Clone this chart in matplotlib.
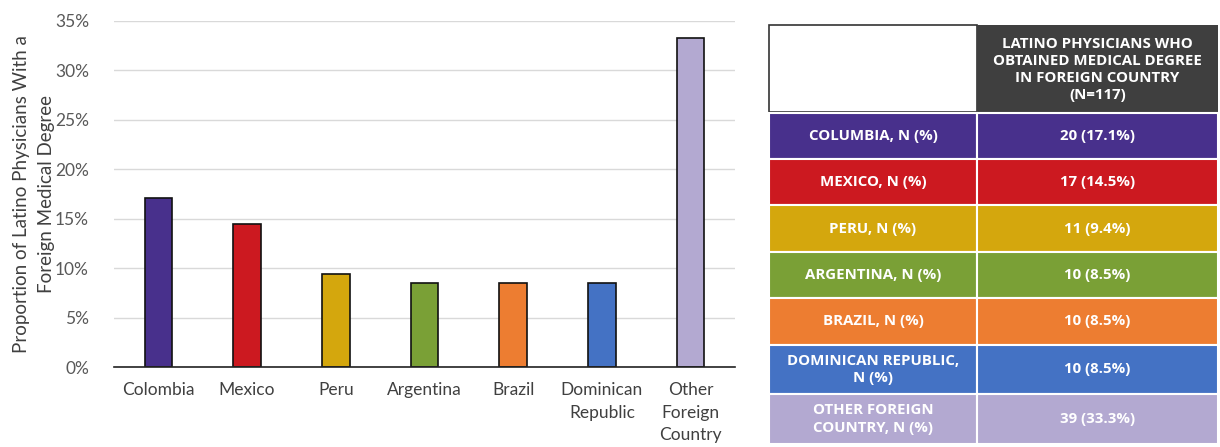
import matplotlib
matplotlib.use("Agg")
import matplotlib.pyplot as plt
from matplotlib.patches import Rectangle
from matplotlib.ticker import PercentFormatter

# ---- data ----
categories = ["Colombia", "Mexico", "Peru", "Argentina", "Brazil",
              "Dominican\nRepublic", "Other\nForeign\nCountry"]
proportions = [17.1, 14.5, 9.4, 8.5, 8.5, 8.5, 33.3]
colors = ["#48308c", "#cc1920", "#d4a70d", "#7aa036", "#ed7d31", "#4472c4", "#b3a9d1"]
row_labels = ["COLUMBIA, N (%)", "MEXICO, N (%)", "PERU, N (%)", "ARGENTINA, N (%)",
              "BRAZIL, N (%)", "DOMINICAN REPUBLIC,\nN (%)", "OTHER FOREIGN\nCOUNTRY, N (%)"]
counts = [20, 17, 11, 10, 10, 10, 39]
pct_text = ["17.1%", "14.5%", "9.4%", "8.5%", "8.5%", "8.5%", "33.3%"]
header = "LATINO PHYSICIANS WHO\nOBTAINED MEDICAL DEGREE\nIN FOREIGN COUNTRY\n(N=117)"
yticks = [0, 5, 10, 15, 20, 25, 30, 35]

plt.rcParams['font.family'] = ['Open Sans', 'DejaVu Sans']

W, H = 1220, 447
fig = plt.figure(figsize=(W / 100, H / 100), dpi=100)

# ---- bar chart ----
ax = fig.add_axes([114 / W, 1 - 367 / H, (735 - 114) / W, (367 - 21) / H])
x = list(range(len(categories)))
ax.bar(x, proportions, width=0.31, color=colors, edgecolor="#111111", linewidth=1.2, zorder=3)
ax.set_xlim(-0.5, len(categories) - 0.5)
ax.set_ylim(0, 35)
ax.set_yticks(yticks)
ax.yaxis.set_major_formatter(PercentFormatter(decimals=0))
ax.set_xticks(x)
ax.set_xticklabels(categories, fontsize=12.5, color="#404040", linespacing=1.5,
                   family=['Lato', 'DejaVu Sans'])
ax.tick_params(axis='y', labelsize=12.5, labelcolor="#595959", length=0, pad=18)
ax.tick_params(axis='x', length=0, pad=11)
for lab in ax.get_yticklabels():
    lab.set_family(['Lato', 'DejaVu Sans'])
ax.grid(axis='y', color="#d9d9d9", linewidth=1, zorder=0)
for s in ["top", "right", "left"]:
    ax.spines[s].set_visible(False)
ax.spines["bottom"].set_color("#222222")
ax.spines["bottom"].set_linewidth(1.2)
ax.spines["bottom"].set_zorder(4)
ax.set_ylabel("Proportion of Latino Physicians With a\nForeign Medical Degree",
              fontsize=13.5, color="#404040", labelpad=0, linespacing=1.55,
              family=['Lato', 'DejaVu Sans'])

# ---- table ----
tx = fig.add_axes([0, 0, 1, 1])
tx.set_xlim(0, W)
tx.set_ylim(H, 0)
tx.axis("off")

c0, c1, c2 = 769, 977, 1218
hdr_top, hdr_bot = 25, 112
row_edges = [113, 159, 205, 252, 298, 345, 394, 444]

tx.add_patch(Rectangle((c0, hdr_top), c1 - c0, hdr_bot - hdr_top, facecolor="white",
                       edgecolor="#333333", linewidth=1.2))
tx.add_patch(Rectangle((c1, hdr_top), c2 - c1, hdr_bot - hdr_top, facecolor="#3f3f3f",
                       edgecolor="none"))
tx.text((c1 + c2) / 2, (hdr_top + hdr_bot) / 2 + 1, header, ha="center", va="center",
        color="white", fontsize=10.8, fontweight="bold", linespacing=1.3)

for i, (lab, n, p, col) in enumerate(zip(row_labels, counts, pct_text, colors)):
    y0, y1 = row_edges[i], row_edges[i + 1]
    for (a, b) in [(c0, c1), (c1, c2)]:
        tx.add_patch(Rectangle((a, y0), b - a, y1 - y0, facecolor=col,
                               edgecolor="white", linewidth=1.5))
    ym = (y0 + y1) / 2
    tx.text((c0 + c1) / 2, ym, lab, ha="center", va="center", color="white",
            fontsize=10.8, fontweight="bold", linespacing=1.3)
    tx.text((c1 + c2) / 2, ym, f"{n} ({p})", ha="center", va="center", color="white",
            fontsize=10.8, fontweight="bold")

fig.savefig("out.png", dpi=100)
